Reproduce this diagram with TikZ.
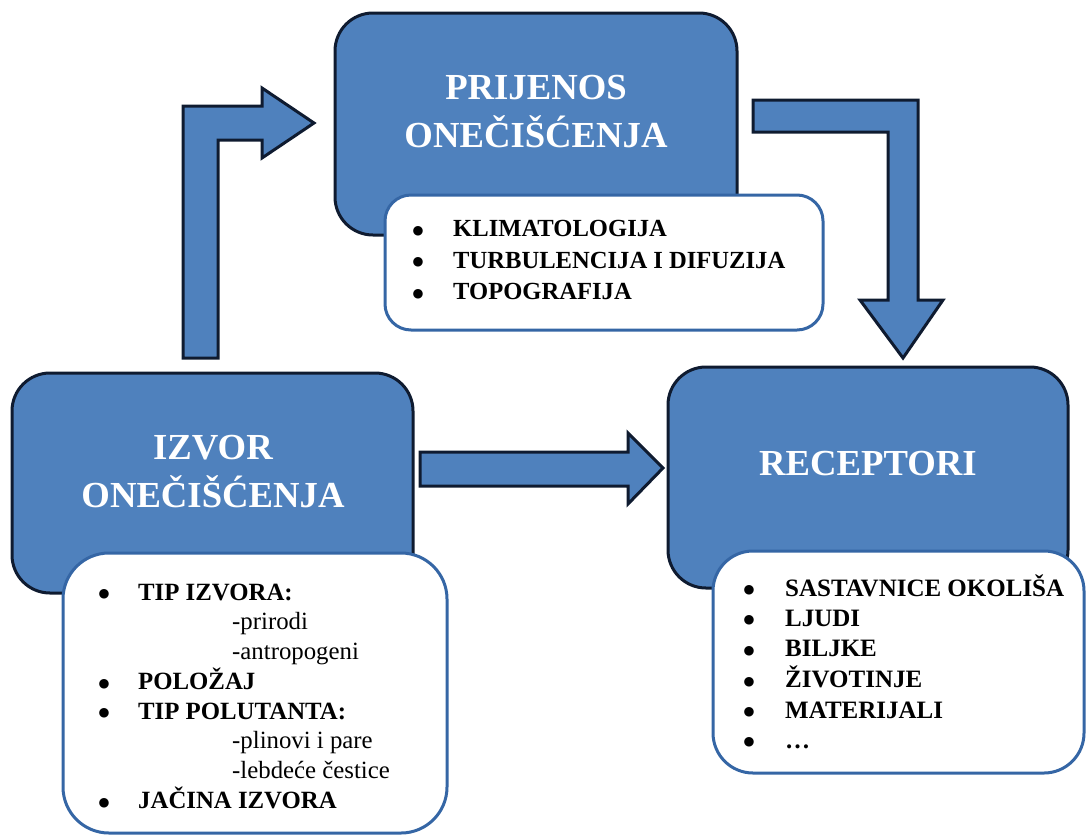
\documentclass[tikz,border=0pt]{standalone}
\usepackage{fontspec}
\setmainfont{Liberation Serif}
\newfontfamily\symfont{DejaVu Sans}
\definecolor{boxblue}{HTML}{4F81BD}
\definecolor{darkedge}{HTML}{0F1B30}
\definecolor{listedge}{HTML}{3566A5}
\newcommand{\bigbul}[1]{\makebox[#1][l]{\hspace{0.5pt}\raisebox{2.5pt}{\symfont\fontsize{12.5}{12.5}\selectfont ●}}}
\begin{document}
\begin{tikzpicture}[x=1pt,y=-1pt,
  bluebox/.style={draw=darkedge, line width=3pt, fill=boxblue, rounded corners=38pt, inner sep=0pt},
  whitebox/.style={draw=listedge, line width=3pt, fill=white, inner sep=0pt},
  blockarrow/.style={draw=darkedge, line width=3pt, fill=boxblue, line join=miter},
  titletext/.style={text=white, font=\fontsize{36.7}{48}\selectfont\bfseries, inner sep=0pt, anchor=base},
  listtext/.style={inner sep=0pt, anchor=base west}]
\useasboundingbox (0,0) rectangle (1086,836);

% main blue boxes
\node[bluebox, minimum width=402pt, minimum height=222pt] (prijenos) at (536,124) {};
\node[bluebox, minimum width=401pt, minimum height=220pt] (izvor) at (212.5,483) {};
\node[bluebox, minimum width=400pt, minimum height=221pt] (receptori) at (868,477.5) {};

% white list boxes
\node[whitebox, rounded corners=26pt, minimum width=438pt, minimum height=135pt] (prijenoslist) at (604,262.5) {};
\node[whitebox, rounded corners=46pt, minimum width=384pt, minimum height=280pt] (izvorlist) at (255,693) {};
\node[whitebox, rounded corners=40pt, minimum width=371pt, minimum height=222pt] (receptorilist) at (898.5,662) {};

% titles
\node[titletext] (prijenostitle) at (536,99) {\begin{tabular}[t]{@{}c@{}}PRIJENOS\\ONEČIŠĆENJA\end{tabular}};
\node[titletext] (izvortitle) at (213,459) {\begin{tabular}[t]{@{}c@{}}IZVOR\\ONEČIŠĆENJA\end{tabular}};
\node[titletext] (receptorititle) at (868,475) {\begin{tabular}[t]{@{}c@{}}RECEPTORI\end{tabular}};

% list texts
\node[listtext, font=\fontsize{24.6}{31.5}\selectfont] (prijenositems) at (412,236.5)
  {\begin{tabular}[t]{@{}l@{}l@{}}
   \bigbul{41pt} & \textbf{KLIMATOLOGIJA}\\
   \bigbul{41pt} & \textbf{TURBULENCIJA I DIFUZIJA}\\
   \bigbul{41pt} & \textbf{TOPOGRAFIJA}
  \end{tabular}};
\node[listtext, font=\fontsize{24.8}{29.6}\selectfont] (izvoritems) at (98,600)
  {\begin{tabular}[t]{@{}l@{}l@{}}
   \bigbul{40pt} & \textbf{TIP IZVORA:}\\
   & \hspace{94pt}-prirodi\\
   & \hspace{94pt}-antropogeni\\
   \bigbul{40pt} & \textbf{POLOŽAJ}\\
   \bigbul{40pt} & \textbf{TIP POLUTANTA:}\\
   & \hspace{94pt}-plinovi i pare\\
   & \hspace{94pt}-lebdeće čestice\\
   \bigbul{40pt} & \textbf{JAČINA IZVORA}
  \end{tabular}};
\node[listtext, font=\fontsize{25}{30.4}\selectfont] (receptoriitems) at (743,596)
  {\begin{tabular}[t]{@{}l@{}l@{}}
   \bigbul{42pt} & \textbf{SASTAVNICE OKOLIŠA}\\
   \bigbul{42pt} & \textbf{LJUDI}\\
   \bigbul{42pt} & \textbf{BILJKE}\\
   \bigbul{42pt} & \textbf{ŽIVOTINJE}\\
   \bigbul{42pt} & \textbf{MATERIJALI}\\
   \bigbul{42pt} & \textbf{…}
  \end{tabular}};

% block arrows
\draw[blockarrow] (183,358) -- (183,106) -- (262,106) -- (262,88) -- (314,123)
  -- (262,158) -- (262,140) -- (218,140) -- (218,358) -- cycle;
\draw[blockarrow] (753,100) -- (918,100) -- (918,300) -- (943,300) -- (903,358)
  -- (860,300) -- (888,300) -- (888,132) -- (753,132) -- cycle;
\draw[blockarrow] (420,452) -- (628,452) -- (628,433) -- (663,468) -- (628,504)
  -- (628,486) -- (420,486) -- cycle;
\end{tikzpicture}
\end{document}
